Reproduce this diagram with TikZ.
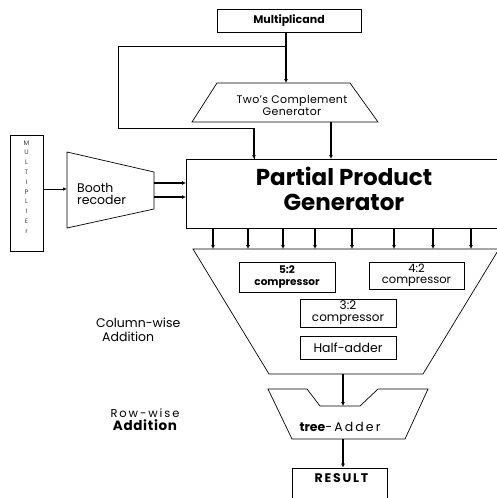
\documentclass[tikz,border=0pt]{standalone}
\usepackage{fontspec}
\setmainfont{Poppins}
\usetikzlibrary{arrows.meta}

\begin{document}
\begin{tikzpicture}[x=1pt,y=-1pt,
    box/.style={draw, line width=0.7pt, inner sep=0pt},
    arr/.style={-{Latex[length=4pt,width=4pt]}, line width=1.3pt},
    thinarr/.style={-{Latex[length=4pt,width=3.5pt]}, line width=0.8pt},
    lbl/.style={font=\fontsize{11.5}{11.5}\selectfont, align=center, inner sep=0pt}]
    \useasboundingbox (0,0) rectangle (497,498);
    \clip (0,0) rectangle (497,498);

    % inputs
    \node[box, minimum width=144pt, minimum height=23pt, lbl, font=\fontsize{11}{11}\selectfont\bfseries] (mcand) at (289,20.5) {Multiplicand};
    \node[box, minimum width=33pt, minimum height=116pt] (mplier) at (26.5,193) {};
    \node[font=\fontsize{6.5}{9.8}\selectfont, align=center, text=black!75, inner sep=0pt] (mptxt) at (26.5,187)
        {M\\U\\L\\T\\I\\P\\L\\I\\E\\r};

    % two's complement generator
    \coordinate (tcga) at (217,83);
    \coordinate (tcgb) at (350,83);
    \coordinate (tcgc) at (378,122);
    \coordinate (tcgd) at (192,122);
    \draw[line width=0.7pt] (tcga)--(tcgb)--(tcgc)--(tcgd)--cycle;
    \node[lbl, font=\fontsize{11}{12}\selectfont\addfontfeature{LetterSpace=3}] (tcg) at (292,105) {Two's Complement\\Generator};

    % booth recoder
    \coordinate (bra) at (67,152);
    \coordinate (brb) at (154,172);
    \coordinate (brc) at (154,209);
    \coordinate (brd) at (67,228);
    \draw[line width=0.7pt] (bra)--(brb)--(brc)--(brd)--cycle;
    \node[font=\fontsize{12.5}{12.5}\selectfont, align=left, inner sep=0pt, anchor=west] (br) at (77,194) {Booth\\recoder};

    % partial product generator
    \node[box, minimum width=320pt, minimum height=69pt, anchor=north west] (ppg) at (186,159) {};
    \node[font=\fontsize{23}{25}\selectfont\bfseries, align=center, inner sep=0pt] (ppgtxt) at (344,189)
        {Partial Product\\Generator};

    % compressor tree
    \coordinate (csa) at (193,249);
    \coordinate (csb) at (499,249);
    \coordinate (csc) at (423,374);
    \coordinate (csd) at (269,374);
    \draw[line width=0.7pt] (csa)--(csb)--(csc)--(csd)--cycle;
    \node[box, minimum width=96pt, minimum height=30pt, lbl, font=\fontsize{10.5}{11.5}\selectfont\bfseries] (c52) at (287,277) {5:2\\compressor};
    \node[box, minimum width=95pt, minimum height=27pt, lbl] (c42) at (416.5,275.5) {4:2\\compressor};
    \node[box, minimum width=96pt, minimum height=28pt, lbl, font=\fontsize{12}{12}\selectfont] (c32) at (348,313) {3:2\\compressor};
    \node[box, minimum width=96pt, minimum height=23pt, lbl, font=\fontsize{12.5}{13}\selectfont] (ha) at (348,347.5) {Half-adder};
    \node[lbl, font=\fontsize{12.5}{14}\selectfont, align=left, anchor=west] (colw) at (96,330) {Column-wise\\\hspace*{6pt}Addition};

    % final adder
    \coordinate (ta1) at (268,389);
    \coordinate (ta2) at (307,389);
    \coordinate (ta3) at (320,406);
    \coordinate (ta4) at (360,406);
    \coordinate (ta5) at (378,389);
    \coordinate (ta6) at (428,389);
    \coordinate (ta7) at (405,439);
    \coordinate (ta8) at (292,439);
    \draw[line width=0.7pt] (ta1)--(ta2)--(ta3)--(ta4)--(ta5)--(ta6)--(ta7)--(ta8)--cycle;
    \node[lbl, font=\fontsize{12.5}{13}\selectfont] (tadd) at (340,427) {\textbf{tree}-\,A\,d\,d\,e\,r};
    \node[lbl, font=\fontsize{11.5}{13}\selectfont] (roww) at (145,420)
        {R\,o\,w\,-\,w\,i\,s\,e\\{\fontsize{13.5}{14}\selectfont\bfseries\addfontfeature{LetterSpace=5}Addition}};
    \node[box, minimum width=95pt, minimum height=30pt] (res) at (339.5,483) {};
    \node[lbl, font=\fontsize{12.5}{13}\selectfont\bfseries\addfontfeature{LetterSpace=14}] (restxt) at (341.5,478) {RESULT};

    % connections
    \coordinate (split) at (286,46);
    \coordinate (bend) at (118,128);
    \draw[arr] (mcand.south -| split) -- (tcga -| split);
    \draw[line width=0.8pt] (split) -| (bend) -| (254,0 |- ppg.north);
    \draw[arr] (bend -| 254,0) -- (ppg.north -| 254,0);
    \draw[arr] (tcgc -| 331,0) -- (ppg.north -| 331,0);
    \draw[thinarr] (mplier.east |- 0,189) -- (bra |- 0,189);
    \draw[arr] (brb |- 0,183) -- (ppg.west |- 0,183);
    \draw[arr] (brb |- 0,197) -- (ppg.west |- 0,197);
    \foreach \x in {213,248,283,315,352,394,433,471}
        \draw[arr] (ppg.south -| \x,0) -- (csa -| \x,0);
    \coordinate (cso) at (343,374);
    \coordinate (tout) at (343,439);
    \draw[arr] (cso) -- (ta3 -| cso);
    \draw[arr] (tout) -- (res.north -| tout);
\end{tikzpicture}
\end{document}
